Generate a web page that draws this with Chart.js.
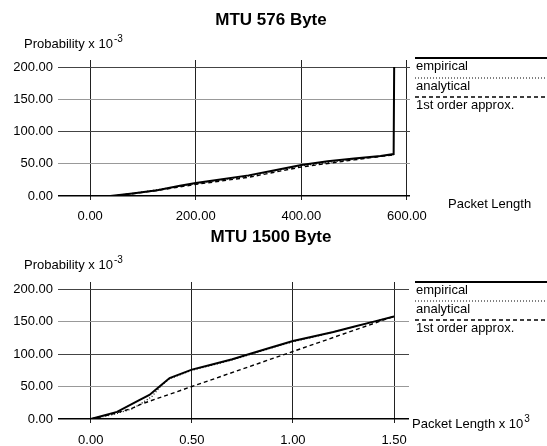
<!DOCTYPE html>
<html>
<head>
<meta charset="utf-8">
<script src="https://cdn.jsdelivr.net/npm/chart.js@4/dist/chart.umd.min.js"></script>
<style>
  body { margin: 0; background: #fff; }
  #wrap { position: relative; width: 547px; height: 446px; }
  #chartTop { position: absolute; left: 0; top: 0; }
  #chartBottom { position: absolute; left: 0; top: 220px; }
</style>
</head>
<body>
<div id="wrap">
  <canvas id="chartTop" width="547" height="230"></canvas>
  <canvas id="chartBottom" width="547" height="226"></canvas>
</div>
<script>
// ---- data ----
const seriesLabels = ["empirical", "analytical", "1st order approx."];
const yTicks = [0, 50, 100, 150, 200];

// MTU 576 Byte (x = packet length in bytes, y = probability x 10^-3)
const mtu576Ticks = [0, 200, 400, 600];
const mtu576EmpX = [0, 38, 80, 127, 170, 200, 250, 300, 350, 400, 450, 500, 550, 575, 576];
const mtu576EmpY = [0, 0, 4, 9, 16, 20, 26, 32, 40, 48, 54, 58, 62, 65, 200];
const mtu576AnaX = [-28, 0, 40, 80, 130, 200, 300, 400, 500, 575];
const mtu576AnaY = [0, 0, 0, 4, 10, 19, 31, 47, 57, 64];
const mtu576ApxX = [0, 40, 80, 130, 200, 300, 400, 500, 575];
const mtu576ApxY = [0, 0, 3.5, 9, 18, 29, 45, 56, 64];

// MTU 1500 Byte (x = packet length x 10^3)
const mtu1500Ticks = [0, 0.5, 1.0, 1.5];
const mtu1500EmpX = [0, 0.13, 0.24, 0.29, 0.34, 0.39, 0.5, 0.6, 0.7, 0.785, 0.9, 1.0, 1.1, 1.2, 1.3, 1.4, 1.5];
const mtu1500EmpY = [0, 11, 29, 37, 50, 63, 76, 84, 92, 100, 111, 120, 127, 134, 142, 150, 158];
const mtu1500AnaX = [-0.075, 0, 0.1, 0.2, 0.24, 0.3, 0.35, 0.39, 0.5, 0.6, 0.7, 0.785, 0.9, 1.0, 1.1, 1.2, 1.3, 1.4, 1.5];
const mtu1500AnaY = [0, 0, 6, 15, 22, 34, 52, 62, 75, 83, 91, 99, 110, 119, 126, 134, 142, 150, 158];
const mtu1500ApxX = [0, 0.1, 0.2, 0.25, 0.5, 1.0, 1.5];
const mtu1500ApxY = [0, 7, 16, 23, 50, 104, 158];

const FONT = "'Liberation Sans', Arial, sans-serif";

function series(label, xs, ys, dash, width) {
  return {
    label: label,
    data: xs.map((x, i) => ({ x: x, y: ys[i] })),
    showLine: true,
    borderColor: "#000",
    borderWidth: width,
    borderDash: dash,
    pointRadius: 0,
    fill: false,
    tension: 0
  };
}

function drawSup(ctx, x, y, main, sup) {
  ctx.font = "13px " + FONT;
  ctx.textAlign = "left";
  ctx.textBaseline = "alphabetic";
  ctx.fillText(main, x, y);
  const w = ctx.measureText(main).width;
  ctx.font = "10px " + FONT;
  ctx.fillText(sup, x + w + 1, y - 6);
}

// titles, axis captions and the legend drawn to the right of the plot
const textPlugin = {
  id: "texts",
  afterDraw(chart) {
    const ctx = chart.ctx;
    const p = chart.options.plugins.texts;
    ctx.save();
    ctx.fillStyle = "#000";
    ctx.font = "bold 17px " + FONT;
    ctx.textAlign = "center";
    ctx.textBaseline = "middle";
    ctx.fillText(p.title, 271, p.titleY);

    drawSup(ctx, 24, p.yCapY, "Probability x 10", "-3");
    if (p.xSup) drawSup(ctx, p.xCapX, p.xCapY, p.xCap, p.xSup);
    else {
      ctx.font = "13px " + FONT;
      ctx.textAlign = "left";
      ctx.textBaseline = "alphabetic";
      ctx.fillText(p.xCap, p.xCapX, p.xCapY);
    }

    chart.data.datasets.forEach((ds, i) => {
      const ly = p.legendY[i];
      ctx.strokeStyle = "#000";
      ctx.lineWidth = ds.borderWidth;
      ctx.setLineDash(ds.borderDash);
      ctx.beginPath();
      ctx.moveTo(415, ly);
      ctx.lineTo(547, ly);
      ctx.stroke();
      ctx.setLineDash([]);
      ctx.font = "13px " + FONT;
      ctx.textAlign = "left";
      ctx.textBaseline = "middle";
      ctx.fillText(ds.label, 416, ly + 8);
    });
    ctx.restore();
  }
};

function makeChart(id, p) {
  return new Chart(id, {
    type: "scatter",
    data: {
      datasets: [
        series(seriesLabels[0], p.emp[0], p.emp[1], [], 2),
        series(seriesLabels[1], p.ana[0], p.ana[1], [1, 2], 1.2),
        series(seriesLabels[2], p.apx[0], p.apx[1], [4, 3], 1.4)
      ]
    },
    options: {
      responsive: false,
      animation: false,
      layout: { padding: { top: p.top, right: 547 - p.right, left: 0, bottom: 0 } },
      plugins: {
        legend: { display: false },
        tooltip: { enabled: false },
        texts: p.texts
      },
      scales: {
        x: {
          type: "linear",
          min: p.xMin,
          max: p.xMax,
          afterBuildTicks: s => { s.ticks = p.xTicks.map(v => ({ value: v })); },
          afterFit: s => { s.height = p.axisH; },
          border: { display: false },
          grid: { color: "#222", lineWidth: 1, drawTicks: true, tickLength: 4, tickColor: "#222" },
          ticks: {
            color: "#000",
            padding: p.xPad,
            autoSkip: false,
            maxRotation: 0,
            font: { family: FONT, size: 13 },
            callback: v => Number(v).toFixed(2)
          }
        },
        y: {
          min: 0,
          max: 211,
          afterBuildTicks: s => { s.ticks = yTicks.map(v => ({ value: v })); },
          afterFit: s => { s.width = 58; },
          border: { display: false },
          grid: {
            drawTicks: false,
            color: c => c.tick.value === 0 ? "#000" : (c.tick.value % 100 === 0 ? "#444" : "#999"),
            lineWidth: c => c.tick.value === 0 ? 1.5 : 1
          },
          ticks: {
            color: "#000",
            padding: 5,
            font: { family: FONT, size: 13 },
            callback: v => Number(v).toFixed(2)
          }
        }
      }
    },
    plugins: [textPlugin]
  });
}

makeChart("chartTop", {
  emp: [mtu576EmpX, mtu576EmpY],
  ana: [mtu576AnaX, mtu576AnaY],
  apx: [mtu576ApxX, mtu576ApxY],
  xTicks: mtu576Ticks,
  xMin: -61, xMax: 606,
  top: 60, right: 410, axisH: 34, xPad: 9,
  texts: { title: "MTU 576 Byte", titleY: 20, yCapY: 48,
           xCap: "Packet Length", xCapX: 448, xCapY: 208,
           legendY: [58, 78, 97] }
});

makeChart("chartBottom", {
  emp: [mtu1500EmpX, mtu1500EmpY],
  ana: [mtu1500AnaX, mtu1500AnaY],
  apx: [mtu1500ApxX, mtu1500ApxY],
  xTicks: mtu1500Ticks,
  xMin: -0.162, xMax: 1.574,
  top: 62, right: 409, axisH: 27, xPad: 10,
  texts: { title: "MTU 1500 Byte", titleY: 17, yCapY: 49,
           xCap: "Packet Length x 10", xSup: "3", xCapX: 412, xCapY: 208,
           legendY: [62, 81, 100] }
});
</script>
</body>
</html>
